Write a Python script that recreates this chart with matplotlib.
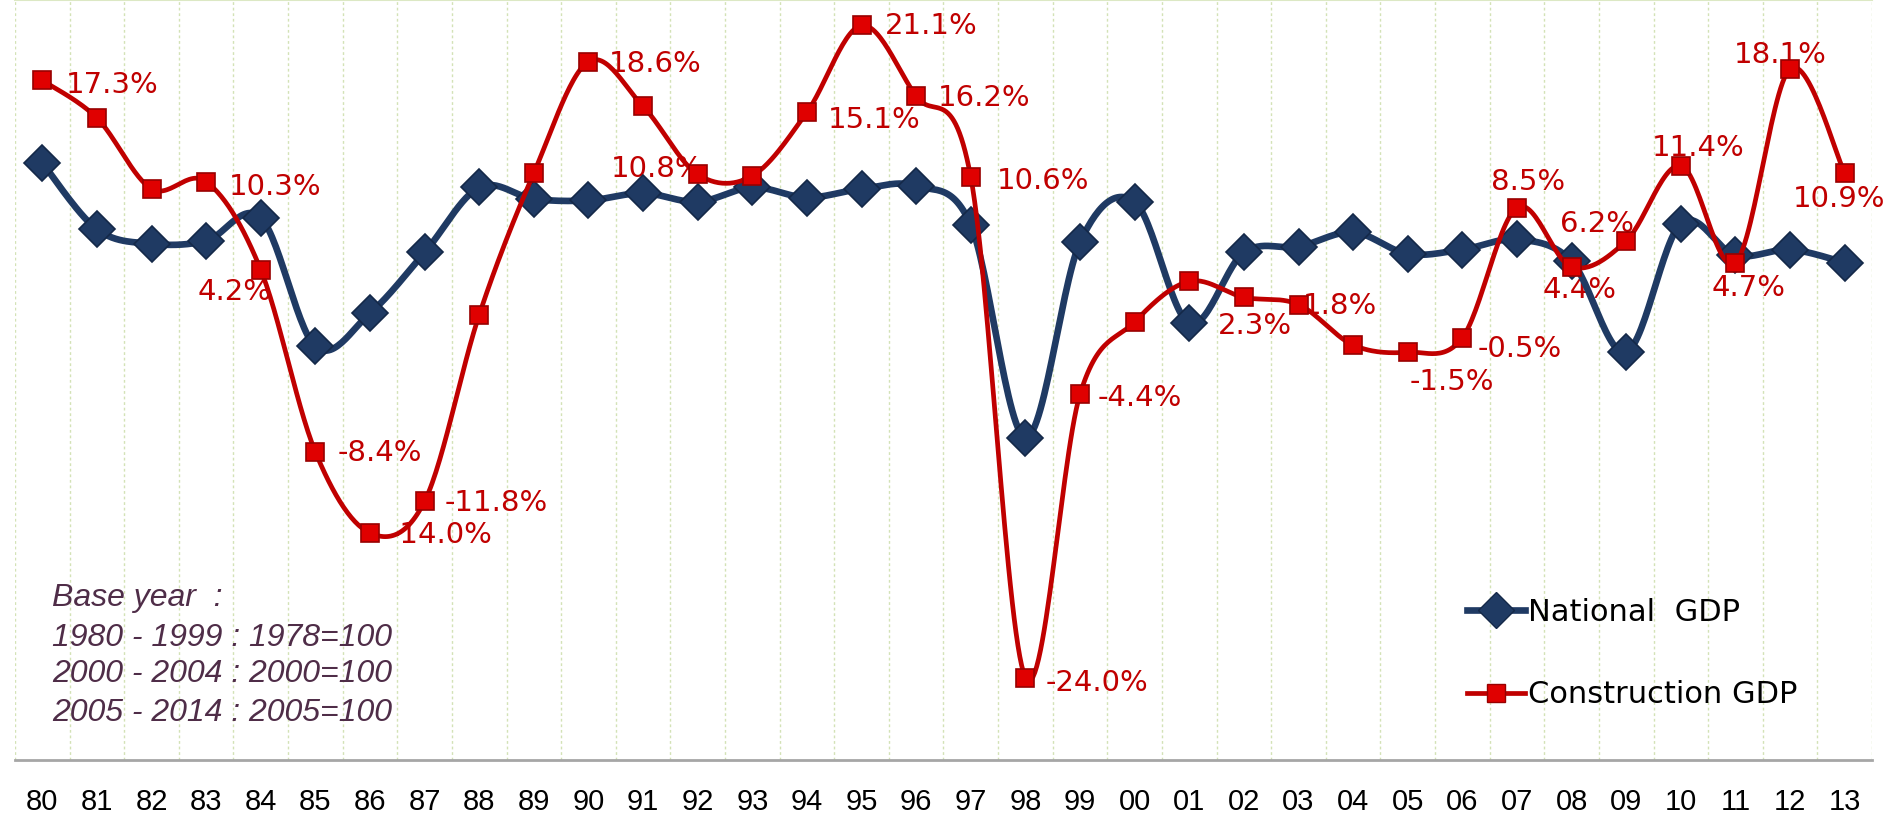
import numpy as np
import matplotlib
matplotlib.use("Agg")
import matplotlib.pyplot as plt
from matplotlib.lines import Line2D

# ---------------- data ----------------
years = ["80", "81", "82", "83", "84", "85", "86", "87", "88", "89",
         "90", "91", "92", "93", "94", "95", "96", "97", "98", "99",
         "00", "01", "02", "03", "04", "05", "06", "07", "08", "09",
         "10", "11", "12", "13"]
national_gdp = [11.6, 7.0, 6.0, 6.2, 7.8, -1.1, 1.2, 5.4, 9.9, 9.1,
                9.0, 9.5, 8.9, 9.9, 9.2, 9.8, 10.0, 7.3, -7.4, 6.1,
                8.9, 0.5, 5.4, 5.8, 6.8, 5.3, 5.6, 6.3, 4.8, -1.5,
                7.4, 5.2, 5.6, 4.7]
construction_gdp = [17.3, 14.7, 9.8, 10.3, 4.2, -8.4, -14.0, -11.8, 1.1, 10.9,
                    18.6, 15.5, 10.8, 10.7, 15.1, 21.1, 16.2, 10.6, -24.0, -4.4,
                    0.6, 3.4, 2.3, 1.8, -1.0, -1.5, -0.5, 8.5, 4.4, 6.2,
                    11.4, 4.7, 18.1, 10.9]
# which construction points carry a data label (by year)
labelled_years = ["80", "83", "84", "85", "86", "87", "90", "92", "94", "95",
                  "96", "97", "98", "99", "02", "03", "05", "06", "07", "08",
                  "09", "10", "11", "12", "13"]
base_year_note = ["Base year  :", "1980 - 1999 : 1978=100",
                  "2000 - 2004 : 2000=100", "2005 - 2014 : 2005=100"]

# label placement (offset pixels, horizontal alignment)
label_style = {
    "80": (24, -5, "left"), "83": (23, -5, "left"), "84": (-26, -22, "center"),
    "85": (22, -1, "left"), "86": (20, -2, "left"), "87": (20, -2, "left"),
    "90": (20, -2, "left"), "92": (6, 5, "right"), "94": (21, -8, "left"),
    "95": (23, -1, "left"), "96": (22, -2, "left"), "97": (26, -4, "left"),
    "98": (20, -5, "left"), "99": (18, -4, "left"), "02": (11, -29, "center"),
    "03": (4, -1, "left"), "05": (44, -30, "center"), "06": (15, -11, "left"),
    "07": (11, 26, "center"), "08": (8, -23, "center"), "09": (-29, 17, "center"),
    "10": (17, 18, "center"), "11": (13, -25, "center"), "12": (-10, 14, "center"),
    "13": (-6, -26, "center"),
}


def smooth(y, n=30):
    """Excel-like smoothed line: Catmull-Rom Bezier through the points."""
    y = np.asarray(y, float)
    x = np.arange(len(y), dtype=float)
    P = np.column_stack([x, y])
    ext = np.vstack([P[0], P, P[-1]])
    out = []
    t = np.linspace(0, 1, n)[:, None]
    for i in range(len(P) - 1):
        p0, p1, p2, p3 = ext[i], ext[i + 1], ext[i + 2], ext[i + 3]
        c1 = p1 + (p2 - p0) / 6.0
        c2 = p2 - (p3 - p1) / 6.0
        seg = ((1 - t) ** 3) * p1 + 3 * ((1 - t) ** 2) * t * c1 + 3 * (1 - t) * t ** 2 * c2 + t ** 3 * p2
        out.append(seg if i == 0 else seg[1:])
    out = np.vstack(out)
    return out[:, 0], out[:, 1]


NAVY = "#1F3A63"
NAVY_EDGE = "#142848"
RED = "#C00000"
RED_FILL = "#E00000"
RED_EDGE = "#980000"
NARROW = ["Liberation Sans Narrow", "Liberation Sans"]

fig = plt.figure(figsize=(18.87, 8.17), dpi=100)
ax = fig.add_axes([15 / 1887, 57 / 817, 1857 / 1887, 760 / 817])

x = np.arange(len(years))

# national
sx, sy = smooth(national_gdp)
ax.plot(sx, sy, color=NAVY, lw=4.8, solid_capstyle="round", zorder=3)
ax.plot(x, national_gdp, ls="none", marker="D", ms=18, mfc=NAVY, mec=NAVY_EDGE,
        mew=1.2, zorder=4)

# construction
sx, sy = smooth(construction_gdp)
ax.plot(sx, sy, color=RED, lw=3.4, solid_capstyle="round", zorder=5)
ax.plot(x, construction_gdp, ls="none", marker="s", ms=13, mfc=RED_FILL, mec=RED_EDGE,
        mew=1.2, zorder=6)

for yr in labelled_years:
    i = years.index(yr)
    dx, dy, ha = label_style[yr]
    ax.annotate(f"{construction_gdp[i]:.1f}%", (i, construction_gdp[i]),
                xytext=(dx, dy), textcoords="offset pixels", ha=ha, va="center",
                color=RED, fontsize=21, family="DejaVu Sans", zorder=2)

ax.set_xlim(-0.5, len(years) - 0.5)
ax.set_ylim(-29.7, 22.86)
ax.set_xticks(x)
ax.set_xticklabels(years, family=NARROW, fontsize=21)
ax.set_xticks(np.arange(-0.5, len(years), 1.0), minor=True)
ax.tick_params(axis="x", which="both", length=0, pad=20)
ax.set_yticks([])
ax.grid(which="minor", axis="x", color="#D3E2B6", ls=(0, (2, 2)), lw=1.0, zorder=0)
for s in ["left", "right"]:
    ax.spines[s].set_visible(False)
ax.spines["top"].set_color("#DCE8C4")
ax.spines["top"].set_linewidth(1.5)
ax.spines["bottom"].set_color("#A6A6A6")
ax.spines["bottom"].set_linewidth(2)

# legend
handles = [
    Line2D([], [], color=NAVY, lw=4.8, marker="D", ms=18, mfc=NAVY, mec=NAVY_EDGE),
    Line2D([], [], color=RED, lw=3.4, marker="s", ms=13, mfc=RED_FILL, mec=RED_EDGE),
]
ax.legend(handles, ["National  GDP", "Construction GDP"], loc="center left",
          bbox_to_anchor=(0.782, 0.14), frameon=False, fontsize=22,
          handlelength=1.9, handletextpad=0.1, labelspacing=1.75,
          borderpad=0, borderaxespad=0)

# base year note
ys = [598, 638, 674, 713]
for txt, yy in zip(base_year_note, ys):
    fig.text(52 / 1887, 1 - yy / 817, txt, ha="left", va="center", style="italic",
             color="#4F2D48", fontsize=23, family=NARROW)

fig.savefig("out.png", dpi=100)
